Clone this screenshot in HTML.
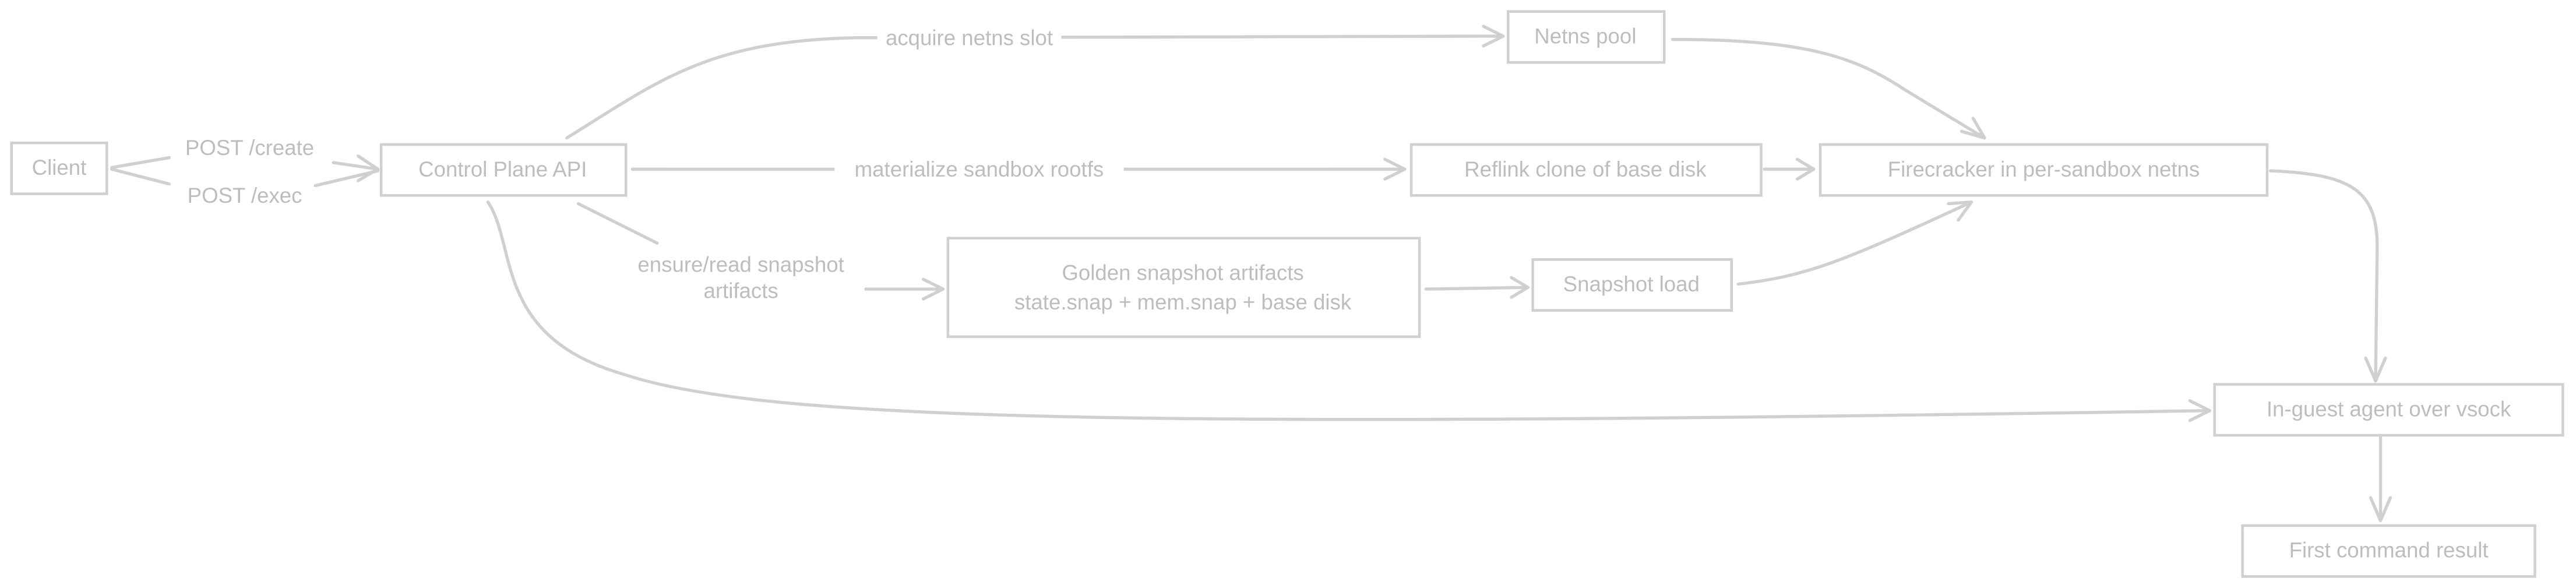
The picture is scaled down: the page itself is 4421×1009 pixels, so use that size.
<!DOCTYPE html>
<html><head><meta charset="utf-8"><style>
html,body{margin:0;padding:0;background:#fff;}
svg{display:block;}
text{font-family:"Liberation Sans",sans-serif;fill:#bdbdbd;font-size:13px;text-anchor:middle;dominant-baseline:central;}
.b{fill:#fff;stroke:#d0d0d0;stroke-width:1.6;}
.l{fill:none;stroke:#d0d0d0;stroke-width:1.9;stroke-linecap:round;stroke-linejoin:round;}
</style></head><body>
<svg width="4421" height="1009" viewBox="0 0 1568 358" preserveAspectRatio="none" xmlns="http://www.w3.org/2000/svg">
<path class="l" d="M68,102 L103,96 M203,99 L230,103 M68,103 L103,112 M192,113 L230,104"/>
<path class="l" d="M218,95 L230,103 L218,110"/>
<path class="l" d="M345,84 C400,50 430,25 520,23 L915,22"/>
<path class="l" d="M903,16 L915,22 L903,28"/>
<path class="l" d="M385,103 L855,103"/>
<path class="l" d="M843,97 L855,103 L843,109"/>
<path class="l" d="M352,124 L400,148 M527,176 L574,176"/>
<path class="l" d="M562,170 L574,176 L562,182"/>
<path class="l" d="M297,123 C315,150 300,205 380,228 C470,258 720,260 1345,250"/>
<path class="l" d="M1333,244 L1345,250 L1333,256"/>
<path class="l" d="M1018,24 C1100,24 1130,35 1160,55 L1208,84"/>
<path class="l" d="M1194,80 L1208,84 L1201,72"/>
<path class="l" d="M1074,103 L1104,103"/>
<path class="l" d="M1094,97 L1104,103 L1094,109"/>
<path class="l" d="M868,176 L930,175"/>
<path class="l" d="M920,169 L930,175 L920,181"/>
<path class="l" d="M1058,173 C1100,168 1120,160 1200,123"/>
<path class="l" d="M1186,124 L1200,123 L1192,134"/>
<path class="l" d="M1382,104 C1430,106 1447,115 1447,150 L1446,232"/>
<path class="l" d="M1440,218 L1446,232 L1452,218"/>
<path class="l" d="M1449,266 L1449,317"/>
<path class="l" d="M1443,303 L1449,317 L1455,303"/>
<rect x="110" y="82" width="84" height="16" fill="#fff"/>
<rect x="112" y="111" width="76" height="16" fill="#fff"/>
<rect x="534" y="15" width="112" height="16" fill="#fff"/>
<rect x="508" y="95" width="176" height="16" fill="#fff"/>
<rect class="b" x="7" y="87" width="58" height="31"/>
<rect class="b" x="232" y="88" width="149" height="31"/>
<rect class="b" x="918" y="7" width="95" height="31"/>
<rect class="b" x="859" y="88" width="213" height="31"/>
<rect class="b" x="1108" y="88" width="272" height="31"/>
<rect class="b" x="577" y="145" width="287" height="60"/>
<rect class="b" x="933" y="158" width="121" height="31"/>
<rect class="b" x="1348" y="234" width="212" height="31"/>
<rect class="b" x="1365" y="320" width="178" height="31"/>
<text x="36" y="102">Client</text>
<text x="306" y="103">Control Plane API</text>
<text x="965" y="22">Netns pool</text>
<text x="965" y="103">Reflink clone of base disk</text>
<text x="1244" y="103">Firecracker in per-sandbox netns</text>
<text x="720" y="166">Golden snapshot artifacts</text>
<text x="720" y="184">state.snap + mem.snap + base disk</text>
<text x="993" y="173">Snapshot load</text>
<text x="1454" y="249">In-guest agent over vsock</text>
<text x="1454" y="335">First command result</text>
<text x="152" y="90">POST /create</text>
<text x="149" y="119">POST /exec</text>
<text x="590" y="23">acquire netns slot</text>
<text x="596" y="103">materialize sandbox rootfs</text>
<text x="451" y="161">ensure/read snapshot</text>
<text x="451" y="177">artifacts</text>
</svg>
</body></html>
